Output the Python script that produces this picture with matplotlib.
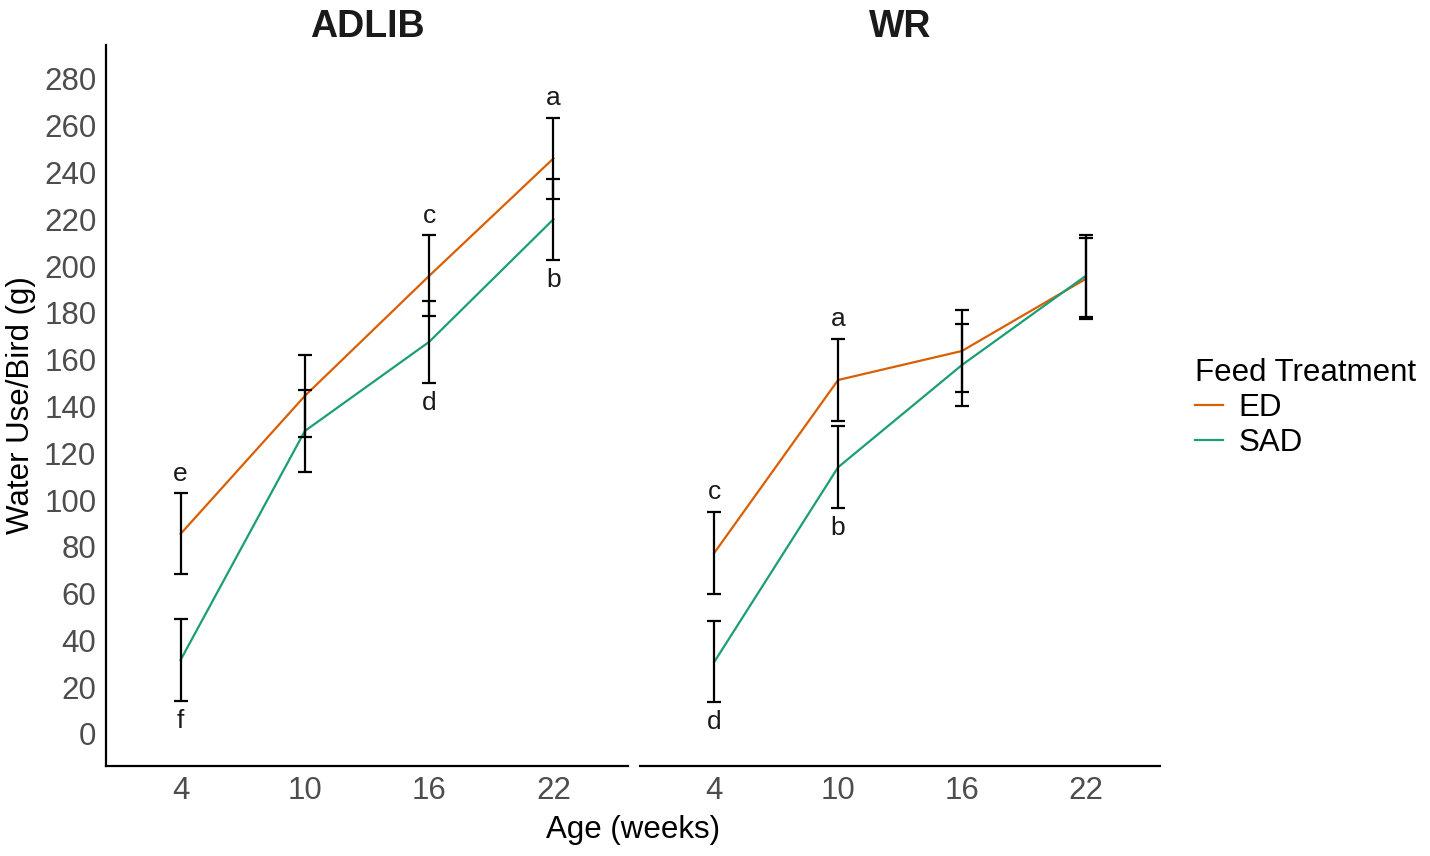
import matplotlib
matplotlib.use('Agg')
from matplotlib import pyplot as plt
from matplotlib.lines import Line2D

plt.rcParams['font.family'] = ['Liberation Sans', 'DejaVu Sans']

ages = ['4', '10', '16', '22']
panels = ['ADLIB', 'WR']
treatments = ['ED', 'SAD']
colors = {'ED': '#D95F02', 'SAD': '#1B9E77'}

# means and standard errors
adlib_ed = [85.5, 144.5, 195.8, 246.0]
adlib_ed_se = [17.3, 17.5, 17.3, 17.5]
adlib_sad = [31.6, 129.5, 167.6, 220.0]
adlib_sad_se = [17.4, 17.5, 17.5, 17.4]
wr_ed = [77.4, 151.3, 163.7, 194.5]
wr_ed_se = [17.5, 17.5, 17.5, 17.3]
wr_sad = [30.8, 114.0, 157.7, 195.8]
wr_sad_se = [17.3, 17.5, 17.5, 17.5]

# significance letters: (panel, age index, treatment, letter)
letters = [
    ('ADLIB', 0, 'ED', 'e'), ('ADLIB', 0, 'SAD', 'f'),
    ('ADLIB', 2, 'ED', 'c'), ('ADLIB', 2, 'SAD', 'd'),
    ('ADLIB', 3, 'ED', 'a'), ('ADLIB', 3, 'SAD', 'b'),
    ('WR', 0, 'ED', 'c'), ('WR', 0, 'SAD', 'd'),
    ('WR', 1, 'ED', 'a'), ('WR', 1, 'SAD', 'b'),
]

data = {
    'ADLIB': {'ED': (adlib_ed, adlib_ed_se), 'SAD': (adlib_sad, adlib_sad_se)},
    'WR': {'ED': (wr_ed, wr_ed_se), 'SAD': (wr_sad, wr_sad_se)},
}

fig = plt.figure(figsize=(14.3, 8.56), dpi=100)
W, H = 1430, 856
bottom, top = 1 - 766 / H, 1 - 45 / H
ax1 = fig.add_axes([106 / W, bottom, (628 - 106) / W, top - bottom])
ax2 = fig.add_axes([640 / W, bottom, (1160 - 640) / W, top - bottom])
axes = {'ADLIB': ax1, 'WR': ax2}

xpos = list(range(len(ages)))
for name in panels:
    ax = axes[name]
    for t in treatments:
        mean, se = data[name][t]
        ax.plot(xpos, mean, color=colors[t], lw=1.6, zorder=2)
        ax.errorbar(xpos, mean, yerr=se, fmt='none', ecolor='black',
                    elinewidth=1.6, capsize=4.8, capthick=1.6, zorder=3)
    for p, i, t, lab in letters:
        if p != name:
            continue
        mean, se = data[name][t]
        if t == 'ED':
            y = mean[i] + se[i] + 8.5
        else:
            y = mean[i] - se[i] - 8.5
        ax.text(i, y, lab, ha='center', va='center', fontsize=19, color='#1a1a1a')
    ax.set_xlim(-0.6, 3.6)
    ax.set_ylim(-13.7, 294.5)
    ax.set_xticks(xpos)
    ax.set_xticklabels(ages)
    ax.set_title(name, fontsize=27, fontweight='bold', pad=5, color='#1a1a1a')
    ax.tick_params(length=0, labelsize=22.5, labelcolor='#4D4D4D', pad=7)
    for s in ['top', 'right']:
        ax.spines[s].set_visible(False)
    ax.spines['bottom'].set_linewidth(1.6)
    ax.spines['left'].set_linewidth(1.6)

ax1.set_yticks(range(0, 281, 20))
ax1.set_ylabel('Water Use/Bird (g)', fontsize=22.5, labelpad=6)
ax2.spines['left'].set_visible(False)
ax2.set_yticks([])

fig.text(633 / W, 1 - 830 / H, 'Age (weeks)', ha='center', va='center', fontsize=22.5)

handles = [Line2D([], [], color=colors[t], lw=1.6) for t in treatments]
fig.legend(handles, treatments, title='Feed Treatment', loc='center left',
           bbox_to_anchor=(1195 / W, 1 - 408 / H), frameon=False, fontsize=22.5,
           title_fontsize=22.5, handlelength=0.9, handletextpad=0.5,
           labelspacing=0.15, borderpad=0, borderaxespad=0, alignment='left')

fig.savefig('out.png', dpi=100)
